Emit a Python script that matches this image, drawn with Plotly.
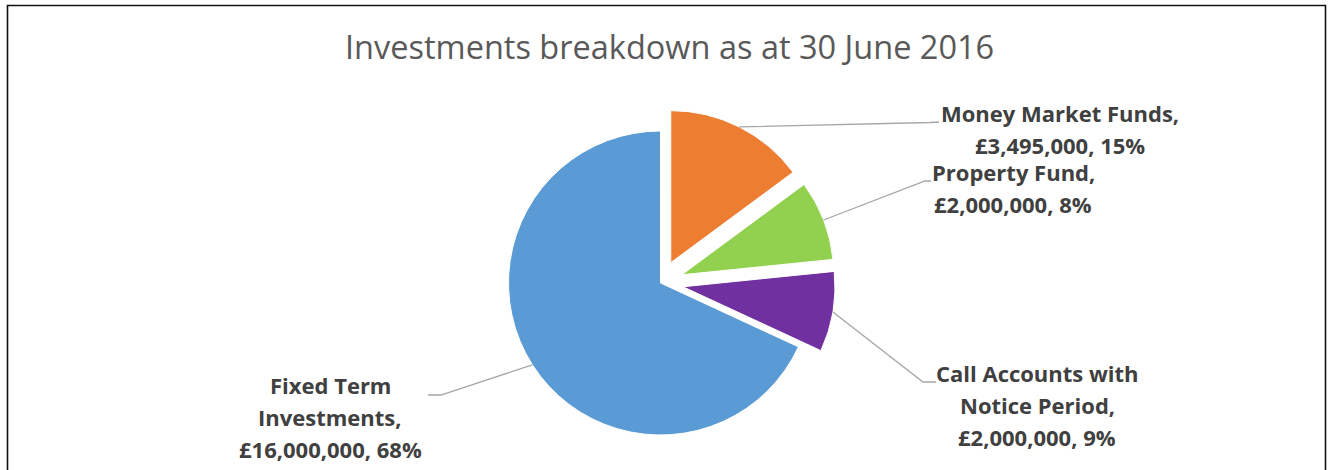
import math
import plotly.graph_objects as go

# Investment holdings at 30 June 2016
categories = ["Money Market Funds", "Property Fund", "Call Accounts with|Notice Period", "Fixed Term|Investments"]
amounts = [3495000, 2000000, 2000000, 16000000]
percent_labels = [15, 8, 9, 68]
colors = ["#ED7D31", "#92D050", "#7030A0", "#5B9BD5"]
pulls = [0.15, 0.15, 0.15, 0.0]

W, H = 1336, 470
CX, CY, R = 660.5, 283.0, 152.0  # pie centre / radius in pixels

# label anchor (centre x, first-line y), leader elbow, leader end
label_pos = [(1060, 113), (1013, 172), (1037, 373), (330, 385)]
leader_elbow = [(930, 122.5), (925, 181), (923, 382), (441, 395)]
leader_end = [(939, 122), (931, 181), (936, 382), (428, 395)]
LINE_GAP = 32

TEXT_FONT = "Open Sans"


def px(x):
    return x / W


def py(y):
    return 1 - y / H


# domain that gives the wanted radius once Plotly shrinks the pie for pulls
span = 2 * R * (1 + max(pulls))
dom_x = [px(CX - span / 2), px(CX + span / 2)]
dom_y = [py(CY + span / 2), py(CY - span / 2)]

fig = go.Figure(
    go.Pie(
        labels=[c.replace("|", " ") for c in categories],
        values=amounts,
        sort=False,
        direction="clockwise",
        rotation=0,
        pull=pulls,
        marker=dict(colors=colors, line=dict(color="white", width=1)),
        textinfo="none",
        hoverinfo="label+value+percent",
        showlegend=False,
        domain=dict(x=dom_x, y=dom_y),
    )
)

shapes = []
annotations = []
total = sum(amounts)
cum = 0
for i, (cat, amt, pct) in enumerate(zip(categories, amounts, percent_labels)):
    frac = (cum + amt / 2) / total
    cum += amt
    th = 2 * math.pi * frac
    sx, sy = math.sin(th), -math.cos(th)
    pcx = CX + pulls[i] * R * sx
    pcy = CY + pulls[i] * R * sy
    ex, ey = pcx + R * sx, pcy + R * sy
    pts = [(ex, ey), leader_elbow[i], leader_end[i]]
    path = "M " + " L ".join(f"{px(x)},{py(y)}" for x, y in pts)
    shapes.append(dict(type="path", xref="paper", yref="paper", path=path,
                       line=dict(color="#A6A6A6", width=1.3)))

    parts = cat.split("|")
    lines = [s + ("," if k == len(parts) - 1 else "") for k, s in enumerate(parts)]
    lines.append(f"£{amt:,}, {pct}%")
    lx, ly = label_pos[i]
    for k, t in enumerate(lines):
        annotations.append(dict(
            text=f"<b>{t}</b>", x=px(lx), y=py(ly + k * LINE_GAP),
            xref="paper", yref="paper", xanchor="center", yanchor="middle",
            showarrow=False, font=dict(family=TEXT_FONT, size=22, color="#404040"),
        ))

annotations.append(dict(
    text="Investments breakdown as at 30 June 2016", x=px(669.5), y=py(46),
    xref="paper", yref="paper", xanchor="center", yanchor="middle", showarrow=False,
    font=dict(family=TEXT_FONT, size=32.5, color="#595959"),
))

# chart frame
shapes.append(dict(type="rect", xref="paper", yref="paper",
                   x0=px(7.5), x1=px(1325.5), y0=py(485), y1=py(5.5),
                   line=dict(color="#111111", width=1.6), fillcolor="rgba(0,0,0,0)"))

fig.update_layout(
    width=W, height=H,
    margin=dict(l=0, r=0, t=0, b=0),
    paper_bgcolor="white", plot_bgcolor="white",
    shapes=shapes, annotations=annotations,
)

fig.write_html("out.html")
